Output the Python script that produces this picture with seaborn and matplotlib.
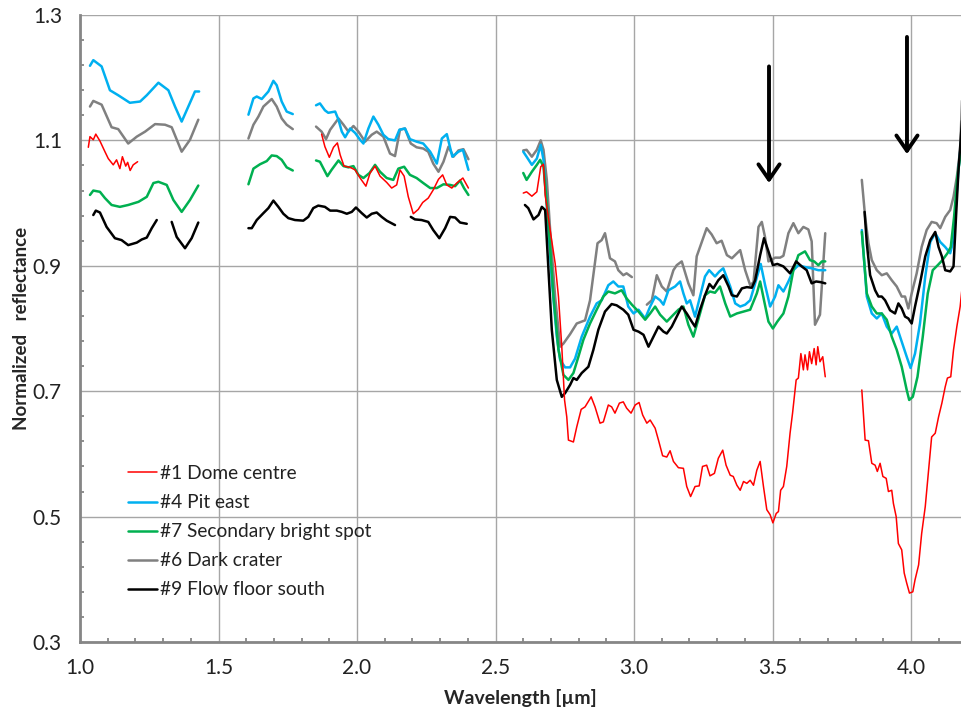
import matplotlib
matplotlib.use("Agg")
import matplotlib.pyplot as plt
from matplotlib.lines import Line2D
from matplotlib.ticker import FormatStrFormatter
import numpy as np
import pandas as pd
import seaborn as sns

nan = np.nan

# ---- data (wavelength in um, normalized reflectance); nan marks a gap ----
red_wl = [1.030, 1.036, 1.048, 1.057, 1.072, 1.090, 1.102, 1.120, 1.132, 1.144, 1.153, 1.165, 1.172, 1.181, 1.192, 1.208, nan,
          1.872, 1.884, 1.900, 1.915, 1.929, 1.939, 1.953, 1.975, 1.993, 2.011, 2.032, 2.047, 2.065, 2.083, 2.107, 2.125, 2.143,
          2.155, 2.170, 2.185, 2.203, 2.221, 2.237, 2.257, 2.275, 2.294, 2.309, 2.324, 2.342, 2.360, 2.382, 2.402, nan,
          2.600, 2.612, 2.631, 2.649, 2.663, 2.673, 2.679, 2.697, 2.715, 2.727, 2.739, 2.749, 2.757, 2.763, 2.781, 2.793, 2.809,
          2.823, 2.845, 2.859, 2.877, 2.889, 2.907, 2.919, 2.931, 2.947, 2.961, 2.973, 2.989, 3.004, 3.018, 3.031, 3.046, 3.058,
          3.076, 3.088, 3.103, 3.118, 3.130, 3.142, 3.160, 3.178, 3.190, 3.204, 3.220, 3.235, 3.247, 3.262, 3.274, 3.290, 3.304,
          3.320, 3.332, 3.347, 3.358, 3.371, 3.383, 3.395, 3.407, 3.419, 3.431, 3.443, 3.455, 3.467, 3.479, 3.491, 3.501, 3.513,
          3.521, 3.529, 3.539, 3.551, 3.563, 3.572, 3.585, 3.593, 3.602, 3.611, 3.617, 3.626, 3.633, 3.641, 3.650, 3.657, 3.663,
          3.671, 3.681, 3.690, nan,
          3.822, 3.834, 3.846, 3.858, 3.870, 3.878, 3.888, 3.898, 3.910, 3.918, 3.930, 3.936, 3.946, 3.954, 3.966, 3.975, 3.984,
          3.994, 4.006, 4.014, 4.027, 4.038, 4.051, 4.063, 4.074, 4.087, 4.099, 4.111, 4.123, 4.131, 4.143, 4.153, 4.165, 4.177,
          4.185]
red_r = [1.089, 1.106, 1.101, 1.110, 1.099, 1.082, 1.071, 1.061, 1.069, 1.055, 1.074, 1.059, 1.065, 1.052, 1.061, 1.066, nan,
         1.110, 1.090, 1.073, 1.089, 1.096, 1.077, 1.059, 1.057, 1.053, 1.040, 1.027, 1.048, 1.059, 1.043, 1.033, 1.024, 1.029,
         1.053, 1.043, 1.010, 0.983, 0.990, 1.001, 1.008, 1.021, 1.038, 1.045, 1.029, 1.024, 1.032, 1.040, 1.024, nan,
         1.016, 1.018, 1.011, 1.018, 1.058, 1.062, 1.013, 0.957, 0.904, 0.851, 0.771, 0.686, 0.659, 0.622, 0.619, 0.643, 0.671,
         0.675, 0.691, 0.675, 0.649, 0.651, 0.678, 0.675, 0.665, 0.681, 0.683, 0.673, 0.665, 0.678, 0.682, 0.662, 0.649, 0.654,
         0.641, 0.622, 0.597, 0.595, 0.605, 0.588, 0.578, 0.577, 0.548, 0.532, 0.548, 0.549, 0.580, 0.582, 0.565, 0.569, 0.593,
         0.606, 0.582, 0.566, 0.564, 0.550, 0.542, 0.556, 0.553, 0.558, 0.550, 0.574, 0.588, 0.548, 0.511, 0.503, 0.490, 0.505,
         0.508, 0.542, 0.548, 0.580, 0.633, 0.665, 0.718, 0.721, 0.760, 0.734, 0.758, 0.734, 0.763, 0.744, 0.768, 0.742, 0.771,
         0.747, 0.755, 0.723, nan,
         0.702, 0.622, 0.621, 0.585, 0.582, 0.572, 0.585, 0.564, 0.561, 0.540, 0.542, 0.521, 0.500, 0.457, 0.447, 0.410, 0.394,
         0.378, 0.380, 0.399, 0.423, 0.473, 0.516, 0.574, 0.627, 0.633, 0.659, 0.681, 0.707, 0.721, 0.723, 0.766, 0.803, 0.835,
         0.870]

blue_wl = [1.036, 1.048, 1.078, 1.108, 1.138, 1.180, 1.217, 1.241, 1.283, 1.319, 1.343, 1.367, 1.391, 1.415, 1.430, nan,
           1.608, 1.626, 1.638, 1.656, 1.680, 1.698, 1.710, 1.728, 1.746, 1.768, nan,
           1.852, 1.866, 1.884, 1.896, 1.921, 1.933, 1.945, 1.957, 1.975, 1.993, 2.011, 2.023, 2.041, 2.059, 2.077, 2.095, 2.113,
           2.137, 2.153, 2.173, 2.191, 2.215, 2.239, 2.264, 2.288, 2.306, 2.324, 2.344, 2.366, 2.382, 2.402, nan,
           2.600, 2.612, 2.631, 2.649, 2.663, 2.673, 2.687, 2.703, 2.721, 2.733, 2.751, 2.769, 2.787, 2.811, 2.841, 2.865, 2.883,
           2.907, 2.925, 2.943, 2.961, 2.979, 2.998, 3.016, 3.040, 3.058, 3.076, 3.094, 3.106, 3.124, 3.148, 3.166, 3.178, 3.190,
           3.202, 3.220, 3.238, 3.256, 3.271, 3.292, 3.308, 3.322, 3.347, 3.365, 3.383, 3.401, 3.419, 3.437, 3.457, 3.473, 3.491,
           3.509, 3.521, 3.539, 3.557, 3.575, 3.593, 3.617, 3.641, 3.665, 3.690, nan,
           3.822, 3.840, 3.858, 3.876, 3.894, 3.912, 3.930, 3.948, 3.966, 3.984, 3.998, 4.014, 4.032, 4.051, 4.069, 4.087, 4.105,
           4.123, 4.141, 4.153, 4.162, 4.171, 4.185]
blue_r = [1.219, 1.228, 1.218, 1.180, 1.172, 1.160, 1.162, 1.172, 1.192, 1.180, 1.154, 1.130, 1.154, 1.178, 1.178, nan,
          1.141, 1.167, 1.170, 1.166, 1.178, 1.195, 1.188, 1.162, 1.146, 1.142, nan,
          1.156, 1.159, 1.148, 1.144, 1.146, 1.133, 1.114, 1.105, 1.119, 1.112, 1.101, 1.095, 1.119, 1.138, 1.125, 1.109, 1.102,
          1.100, 1.117, 1.119, 1.102, 1.098, 1.095, 1.082, 1.063, 1.103, 1.110, 1.074, 1.082, 1.085, 1.053, nan,
          1.082, 1.074, 1.061, 1.071, 1.093, 1.069, 0.984, 0.877, 0.787, 0.750, 0.738, 0.738, 0.752, 0.787, 0.819, 0.840, 0.845,
          0.869, 0.875, 0.867, 0.867, 0.835, 0.824, 0.830, 0.816, 0.835, 0.851, 0.845, 0.838, 0.861, 0.867, 0.875, 0.856, 0.840,
          0.845, 0.819, 0.851, 0.883, 0.893, 0.883, 0.891, 0.896, 0.867, 0.840, 0.835, 0.838, 0.845, 0.872, 0.903, 0.869, 0.835,
          0.851, 0.869, 0.859, 0.875, 0.893, 0.901, 0.898, 0.896, 0.893, 0.893, nan,
          0.957, 0.851, 0.824, 0.816, 0.824, 0.803, 0.792, 0.803, 0.779, 0.755, 0.737, 0.760, 0.808, 0.883, 0.938, 0.952, 0.938,
          0.930, 0.920, 0.941, 1.000, 1.053, 1.120]

green_wl = [1.036, 1.048, 1.072, 1.090, 1.114, 1.144, 1.174, 1.211, 1.241, 1.265, 1.283, 1.313, 1.337, 1.367, 1.397, 1.427, nan,
            1.608, 1.626, 1.650, 1.674, 1.692, 1.710, 1.728, 1.746, 1.768, nan,
            1.852, 1.866, 1.893, 1.908, 1.933, 1.951, 1.969, 1.987, 2.005, 2.023, 2.045, 2.065, 2.083, 2.107, 2.131, 2.149, 2.170,
            2.191, 2.215, 2.239, 2.264, 2.288, 2.312, 2.336, 2.354, 2.372, 2.386, 2.402, nan,
            2.600, 2.612, 2.631, 2.649, 2.661, 2.673, 2.691, 2.709, 2.727, 2.745, 2.763, 2.781, 2.799, 2.817, 2.841, 2.865, 2.889,
            2.907, 2.931, 2.955, 2.973, 2.992, 3.016, 3.040, 3.058, 3.076, 3.094, 3.118, 3.142, 3.160, 3.178, 3.196, 3.214, 3.238,
            3.256, 3.274, 3.292, 3.310, 3.329, 3.347, 3.371, 3.395, 3.419, 3.443, 3.455, 3.469, 3.485, 3.501, 3.517, 3.539, 3.557,
            3.575, 3.593, 3.617, 3.635, 3.650, 3.665, 3.678, 3.690, nan,
            3.822, 3.840, 3.858, 3.876, 3.894, 3.912, 3.930, 3.948, 3.966, 3.984, 3.993, 4.006, 4.023, 4.042, 4.060, 4.078, 4.096,
            4.113, 4.131, 4.143, 4.155, 4.167, 4.185]
green_r = [1.013, 1.020, 1.018, 1.008, 0.997, 0.994, 0.997, 1.002, 1.010, 1.032, 1.034, 1.029, 1.005, 0.986, 1.005, 1.028, nan,
           1.030, 1.055, 1.062, 1.067, 1.076, 1.075, 1.069, 1.057, 1.052, nan,
           1.068, 1.066, 1.043, 1.053, 1.068, 1.059, 1.057, 1.059, 1.045, 1.040, 1.048, 1.061, 1.050, 1.040, 1.037, 1.055, 1.058,
           1.045, 1.040, 1.032, 1.024, 1.024, 1.030, 1.029, 1.027, 1.036, 1.024, 1.013, nan,
           1.048, 1.037, 1.050, 1.061, 1.069, 1.058, 0.968, 0.851, 0.766, 0.726, 0.718, 0.729, 0.755, 0.782, 0.808, 0.830, 0.851,
           0.859, 0.856, 0.861, 0.848, 0.838, 0.827, 0.814, 0.824, 0.835, 0.822, 0.811, 0.822, 0.830, 0.835, 0.806, 0.787, 0.824,
           0.853, 0.859, 0.857, 0.867, 0.840, 0.819, 0.824, 0.827, 0.830, 0.856, 0.875, 0.845, 0.811, 0.800, 0.811, 0.824, 0.851,
           0.893, 0.917, 0.923, 0.909, 0.907, 0.901, 0.907, 0.907, nan,
           0.954, 0.856, 0.835, 0.824, 0.824, 0.814, 0.787, 0.766, 0.739, 0.702, 0.686, 0.691, 0.723, 0.787, 0.856, 0.893, 0.901,
           0.909, 0.920, 0.930, 0.978, 1.042, 1.100]

gray_wl = [1.036, 1.048, 1.078, 1.114, 1.138, 1.174, 1.205, 1.235, 1.271, 1.307, 1.331, 1.367, 1.397, 1.427, nan,
           1.608, 1.626, 1.644, 1.662, 1.692, 1.710, 1.728, 1.746, 1.768, nan,
           1.852, 1.872, 1.888, 1.903, 1.933, 1.951, 1.969, 1.987, 2.005, 2.029, 2.053, 2.071, 2.095, 2.119, 2.137, 2.155, 2.173,
           2.194, 2.215, 2.239, 2.257, 2.275, 2.294, 2.312, 2.330, 2.348, 2.366, 2.384, 2.402, nan,
           2.600, 2.612, 2.631, 2.649, 2.663, 2.673, 2.685, 2.697, 2.715, 2.733, 2.745, 2.769, 2.793, 2.823, 2.841, 2.868, 2.883,
           2.895, 2.913, 2.931, 2.943, 2.961, 2.973, 2.992, nan,
           3.046, 3.064, 3.082, 3.100, 3.118, 3.142, 3.154, 3.172, 3.196, 3.214, 3.226, 3.262, 3.280, 3.298, 3.316, 3.335, 3.353,
           3.383, 3.401, 3.419, 3.431, 3.449, 3.461, 3.473, 3.485, 3.509, 3.527, 3.539, 3.557, 3.575, 3.593, 3.611, 3.629, 3.641,
           3.653, 3.671, 3.690, nan,
           3.822, 3.834, 3.846, 3.858, 3.876, 3.894, 3.912, 3.930, 3.948, 3.966, 3.978, 3.990, 4.002, 4.020, 4.038, 4.056, 4.074,
           4.092, 4.105, 4.123, 4.141, 4.153, 4.165, 4.177, 4.185]
gray_r = [1.154, 1.163, 1.157, 1.121, 1.118, 1.095, 1.106, 1.114, 1.126, 1.125, 1.121, 1.082, 1.101, 1.133, nan,
          1.103, 1.125, 1.138, 1.154, 1.166, 1.154, 1.135, 1.125, 1.118, nan,
          1.122, 1.114, 1.102, 1.117, 1.135, 1.125, 1.114, 1.123, 1.114, 1.098, 1.109, 1.114, 1.106, 1.079, 1.075, 1.117, 1.119,
          1.095, 1.089, 1.087, 1.082, 1.063, 1.050, 1.066, 1.090, 1.074, 1.084, 1.086, 1.070, nan,
          1.084, 1.085, 1.074, 1.085, 1.100, 1.085, 1.037, 0.957, 0.851, 0.771, 0.776, 0.791, 0.808, 0.813, 0.845, 0.936, 0.941,
          0.952, 0.912, 0.907, 0.893, 0.885, 0.888, 0.882, nan,
          0.838, 0.845, 0.885, 0.867, 0.859, 0.893, 0.901, 0.907, 0.872, 0.853, 0.915, 0.960, 0.950, 0.936, 0.940, 0.917, 0.912,
          0.925, 0.893, 0.869, 0.874, 0.962, 0.970, 0.945, 0.907, 0.913, 0.913, 0.916, 0.952, 0.968, 0.952, 0.962, 0.958, 0.939,
          0.806, 0.822, 0.952, nan,
          1.037, 0.978, 0.936, 0.909, 0.893, 0.885, 0.888, 0.877, 0.867, 0.851, 0.851, 0.832, 0.856, 0.888, 0.930, 0.957, 0.970,
          0.968, 0.960, 0.978, 0.989, 1.010, 1.042, 1.085, 1.180]

black_wl = [1.048, 1.057, 1.072, 1.096, 1.126, 1.150, 1.174, 1.205, 1.223, 1.241, 1.259, 1.277, nan,
            1.331, 1.349, 1.379, 1.403, 1.427, nan,
            1.608, 1.620, 1.638, 1.662, 1.680, 1.698, 1.716, 1.734, 1.752, 1.776, 1.806, 1.824, 1.842, 1.860, 1.884, 1.903, 1.927,
            1.945, 1.963, 1.981, 1.996, 2.017, 2.035, 2.053, 2.071, 2.089, 2.107, 2.137, nan,
            2.194, 2.209, 2.233, 2.257, 2.275, 2.297, 2.318, 2.336, 2.354, 2.372, 2.396, nan,
            2.606, 2.618, 2.637, 2.655, 2.667, 2.679, 2.691, 2.703, 2.721, 2.739, 2.751, 2.769, 2.781, 2.793, 2.811, 2.835, 2.853,
            2.871, 2.895, 2.919, 2.937, 2.961, 2.979, 2.998, 3.016, 3.034, 3.052, 3.070, 3.088, 3.106, 3.118, 3.136, 3.154, 3.172,
            3.190, 3.208, 3.220, 3.238, 3.256, 3.272, 3.286, 3.304, 3.322, 3.341, 3.353, 3.371, 3.389, 3.407, 3.425, 3.437, 3.455,
            3.469, 3.485, 3.501, 3.517, 3.539, 3.563, 3.585, 3.605, 3.623, 3.641, 3.657, 3.673, 3.690, nan,
            3.832, 3.840, 3.852, 3.870, 3.882, 3.894, 3.906, 3.924, 3.942, 3.954, 3.966, 3.978, 3.990, 4.002, 4.014, 4.032, 4.051,
            4.069, 4.087, 4.099, 4.111, 4.123, 4.141, 4.153, 4.162, 4.171, 4.185]
black_r = [0.981, 0.988, 0.985, 0.962, 0.944, 0.941, 0.933, 0.937, 0.942, 0.945, 0.960, 0.973, nan,
           0.970, 0.946, 0.928, 0.944, 0.969, nan,
           0.960, 0.960, 0.973, 0.984, 0.992, 1.004, 0.994, 0.983, 0.976, 0.973, 0.972, 0.978, 0.992, 0.996, 0.994, 0.988, 0.988,
           0.986, 0.983, 0.986, 0.993, 0.984, 0.977, 0.983, 0.985, 0.978, 0.972, 0.965, nan,
           0.978, 0.974, 0.973, 0.970, 0.957, 0.944, 0.960, 0.978, 0.977, 0.969, 0.967, nan,
           0.997, 0.992, 0.974, 0.981, 0.994, 0.989, 0.893, 0.798, 0.718, 0.691, 0.697, 0.710, 0.721, 0.718, 0.729, 0.739, 0.766,
           0.798, 0.827, 0.839, 0.837, 0.830, 0.822, 0.798, 0.795, 0.790, 0.771, 0.787, 0.803, 0.795, 0.792, 0.803, 0.819, 0.835,
           0.824, 0.811, 0.803, 0.830, 0.853, 0.871, 0.864, 0.877, 0.885, 0.867, 0.853, 0.851, 0.864, 0.866, 0.865, 0.877, 0.917,
           0.944, 0.923, 0.901, 0.903, 0.899, 0.888, 0.907, 0.899, 0.893, 0.872, 0.875, 0.874, 0.872, nan,
           0.986, 0.936, 0.885, 0.861, 0.851, 0.851, 0.845, 0.829, 0.824, 0.840, 0.832, 0.819, 0.816, 0.808, 0.835, 0.872, 0.915,
           0.941, 0.954, 0.930, 0.915, 0.893, 0.891, 0.899, 0.978, 1.053, 1.140]

series_names = ["#1 Dome centre", "#4 Pit east", "#7 Secondary bright spot", "#6 Dark crater", "#9 Flow floor south"]
series_colors = ["#ff0000", "#00b0f0", "#00b050", "#808080", "#000000"]
series_widths = [1.1, 1.8, 1.8, 1.8, 1.8]
series_data = [(red_wl, red_r), (blue_wl, blue_r), (green_wl, green_r), (gray_wl, gray_r), (black_wl, black_r)]
draw_order = [3, 1, 2, 4, 0]

arrow_x = [3.487, 3.985]
arrow_top = [1.218, 1.265]
arrow_tip = [1.032, 1.078]


def to_frame(wl, refl):
    df = pd.DataFrame({"wl": wl, "r": refl})
    df["seg"] = df["wl"].isna().cumsum()
    return df.dropna()


sns.set_theme(style="white")
plt.rcParams["font.family"] = ["Lato", "DejaVu Sans"]

fig = plt.figure(figsize=(9.61, 7.10), dpi=100)
ax = fig.add_axes([80 / 961, 68 / 710, 881 / 961, 627 / 710])

for i in draw_order:
    df = to_frame(*series_data[i])
    sns.lineplot(data=df, x="wl", y="r", units="seg", estimator=None, sort=False,
                 color=series_colors[i], lw=series_widths[i], ax=ax, legend=False)

for x, y0, y1 in zip(arrow_x, arrow_top, arrow_tip):
    ax.annotate("", xy=(x, y1), xytext=(x, y0),
                arrowprops=dict(arrowstyle="->,head_length=0.55,head_width=0.38", lw=2.8,
                                color="black", shrinkA=0, shrinkB=0, mutation_scale=20))

ax.set_xlim(1.0, 4.18)
ax.set_ylim(0.3, 1.3)
ax.set_xticks(np.arange(1.0, 4.01, 0.5))
ax.set_xticks(np.arange(1.0, 4.2, 0.1), minor=True)
ax.set_yticks(np.arange(0.3, 1.31, 0.2))
ax.set_yticks(np.arange(0.3, 1.3, 0.04), minor=True)
ax.xaxis.set_major_formatter(FormatStrFormatter("%.1f"))
ax.yaxis.set_major_formatter(FormatStrFormatter("%.1f"))

ax.grid(True, which="major", color="#a6a6a6", lw=1.0)
ax.set_axisbelow(True)
for side in ["top", "right"]:
    ax.spines[side].set_visible(False)
for side in ["left", "bottom"]:
    ax.spines[side].set_color("#868686")
    ax.spines[side].set_linewidth(2.0)

ax.tick_params(axis="x", which="major", direction="inout", length=7, width=1.5, color="#868686",
               labelsize=15, pad=8, labelcolor="#222222")
ax.tick_params(axis="y", which="major", direction="out", length=5, width=1.5, color="#868686",
               labelsize=15, pad=8, labelcolor="#222222")
ax.tick_params(which="minor", direction="in", length=3, width=1.3, color="#868686",
               bottom=True, left=True)

ax.set_xlabel("Wavelength [µm]", fontsize=14, fontweight="bold", labelpad=8)
ax.set_ylabel("Normalized   reflectance", fontsize=13.5, fontweight="bold", labelpad=2)

handles = [Line2D([], [], color=series_colors[i], lw=series_widths[i]) for i in range(5)]
ax.legend(handles, series_names, loc="upper left", bbox_to_anchor=(0.0545, 0.282), frameon=False,
          fontsize=13.8, handlelength=1.5, handletextpad=0.16, labelspacing=0.63,
          borderpad=0, borderaxespad=0, labelcolor="#222222")

fig.savefig("out.png", dpi=100)
